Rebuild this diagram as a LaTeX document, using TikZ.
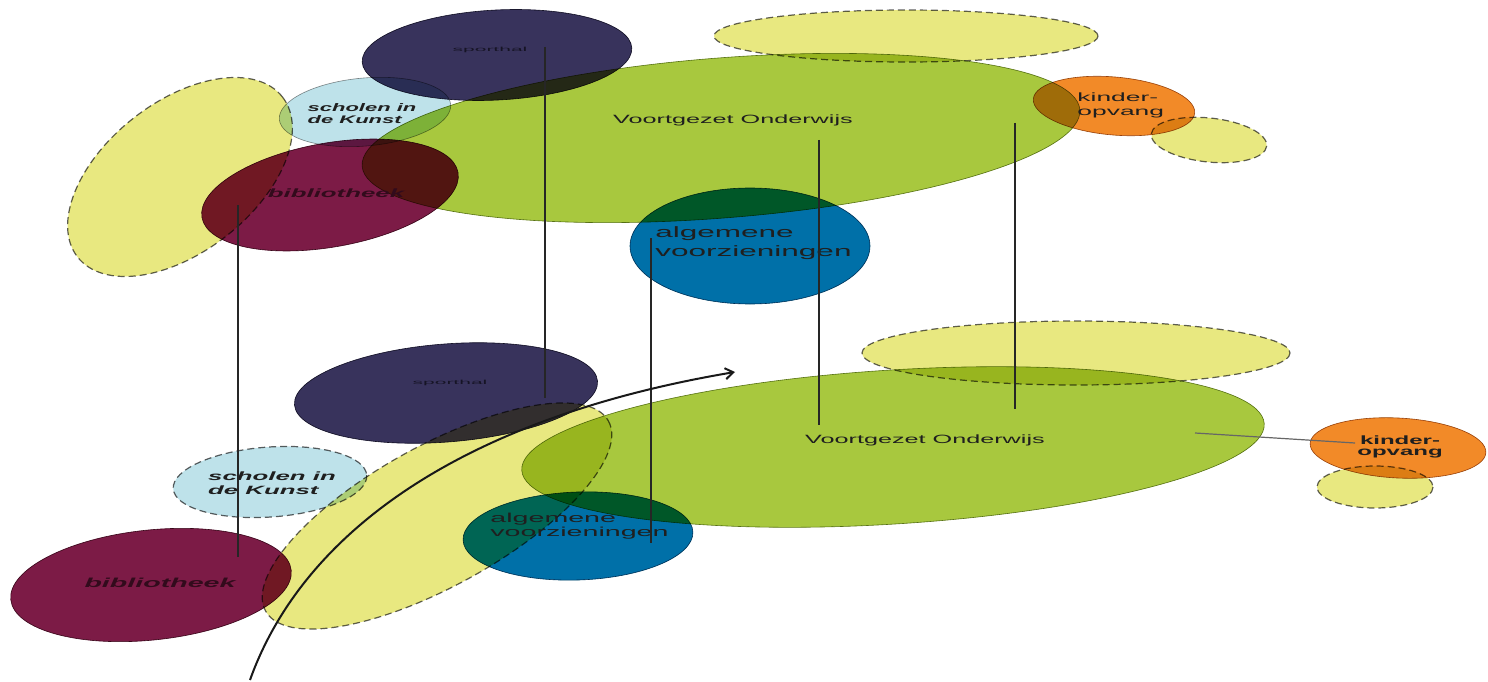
\documentclass[tikz,border=0pt]{standalone}
\usepackage{fontspec}
\setmainfont{Liberation Sans}
\usetikzlibrary{arrows.meta}
\definecolor{vogreen}{RGB}{168,200,62}
\definecolor{hallnavy}{RGB}{56,51,92}
\definecolor{libred}{RGB}{124,27,70}
\definecolor{provblue}{RGB}{0,112,168}
\definecolor{artblue}{RGB}{190,226,234}
\definecolor{hazeyel}{RGB}{232,232,128}
\definecolor{careorange}{RGB}{242,138,40}
\begin{document}
\begin{tikzpicture}[x=1pt,y=-1pt,
  blob/.style={fill=#1, draw=#1!65!black, line width=0.6pt},
  haze/.style={fill=hazeyel, draw=black!62, line width=1.2pt, dash pattern=on 7pt off 4pt},
  lbl/.style={inner sep=0pt, align=left, text=black!88, font=\fontsize{12}{13}\selectfont},
  link/.style={line width=1.7pt, black!85}]
  \useasboundingbox (0,0) rectangle (1488,682);

  \begin{scope}[blend mode=multiply]
    % upper layer
    \path[haze] (906,36) ellipse [x radius=192, y radius=26];
    \path[blob=vogreen, rotate around={4.5:(721,138)}] (721,138) ellipse [x radius=360, y radius=80];
    \path[blob=hallnavy, rotate around={3:(497,55)}] (497,55) ellipse [x radius=135, y radius=45];
    \path[blob=artblue, draw=black!45, rotate around={5:(365,112)}] (365,112) ellipse [x radius=86, y radius=34];
    \path[haze, rotate around={38:(180,177)}] (180,177) ellipse [x radius=130, y radius=75];
    \path[blob=libred, rotate around={10:(330,195)}] (330,195) ellipse [x radius=130, y radius=52];
    \path[blob=provblue] (750,246) ellipse [x radius=120, y radius=58];
    \path[blob=careorange, rotate around={-5:(1114,106)}] (1114,106) ellipse [x radius=81, y radius=29];
    \path[haze, rotate around={-6:(1209,140)}] (1209,140) ellipse [x radius=58, y radius=22];
    % lower layer
    \path[haze] (1076,353) ellipse [x radius=214, y radius=32];
    \path[blob=vogreen, rotate around={3.6:(893,447)}] (893,447) ellipse [x radius=372, y radius=77];
    \path[blob=hallnavy, rotate around={4.5:(446,393)}] (446,393) ellipse [x radius=152, y radius=49];
    \path[haze, rotate around={29:(437,516)}] (437,516) ellipse [x radius=196, y radius=70];
    \path[haze, fill=artblue, rotate around={4:(270,482)}] (270,482) ellipse [x radius=97, y radius=35];
    \path[blob=libred, rotate around={6:(151,585)}] (151,585) ellipse [x radius=141, y radius=55];
    \path[blob=provblue, rotate around={2:(578,536)}] (578,536) ellipse [x radius=115, y radius=44];
    \path[blob=careorange, rotate around={-3:(1398,448)}] (1398,448) ellipse [x radius=88, y radius=30];
    \path[haze] (1375,487) ellipse [x radius=58, y radius=21];
  \end{scope}

  % labels, upper layer
  \node[lbl, xscale=3.5, text=hallnavy!40!black, font=\fontsize{6}{7}\selectfont] (sport1) at (490,50) {sporthal};
  \node[lbl, xscale=2, font=\fontsize{11}{12}\selectfont\bfseries\itshape] (art1) at (362,114) {scholen in\\de Kunst};
  \node[lbl, xscale=2.15, text=libred!40!black, font=\fontsize{12}{13}\selectfont\bfseries\itshape] (lib1) at (336,193) {bibliotheek};
  \node[lbl, xscale=2.1] (vo1) at (733,120) {Voortgezet Onderwijs};
  \node[lbl, anchor=west, xscale=2.1, font=\fontsize{15}{19}\selectfont] (prov1) at (655,243) {algemene\\voorzieningen};
  \node[lbl, anchor=west, xscale=2.2, font=\fontsize{12}{14}\selectfont] (care1) at (1077,105) {kinder-\\opvang};
  % labels, lower layer
  \node[lbl, xscale=3.5, text=hallnavy!40!black, font=\fontsize{6}{7}\selectfont] (sport2) at (450,383) {sporthal};
  \node[lbl, xscale=2.15, font=\fontsize{12}{14}\selectfont\bfseries\itshape] (art2) at (272,483) {scholen in\\de Kunst};
  \node[lbl, xscale=2.2, text=libred!40!black, font=\fontsize{13}{14}\selectfont\bfseries\itshape] (lib2) at (160,583) {bibliotheek};
  \node[lbl, xscale=2.1] (vo2) at (925,440) {Voortgezet Onderwijs};
  \node[lbl, anchor=west, xscale=2.2, font=\fontsize{13}{14}\selectfont] (prov2) at (490,526) {algemene\\voorzieningen};
  \node[lbl, align=center, xscale=2, font=\fontsize{12}{11}\selectfont\bfseries] (care2) at (1400,447) {kinder-\\opvang};

  % line ends
  \coordinate (lib-t) at (238,205);   \coordinate (lib-b) at (238,557);
  \coordinate (sport-t) at (545,47);  \coordinate (sport-b) at (545,398);
  \coordinate (prov-t) at (651,238);  \coordinate (prov-b) at (651,543);
  \coordinate (vo-t) at (819,140);    \coordinate (vo-b) at (819,425);
  \coordinate (vox-t) at (1015,123);  \coordinate (vox-b) at (1015,409);
  \coordinate (vo-k) at (1195,433);   \coordinate (care-k) at (1355,443);
  \coordinate (from) at (250,680);    \coordinate (to) at (735,372);

  \path[link]
    (lib-t) edge (lib-b)
    (sport-t) edge (sport-b)
    (prov-t) edge (prov-b)
    (vo-t) edge (vo-b)
    (vox-t) edge (vox-b);
  \draw[line width=1.2pt, black!60] (vo-k) -- (care-k);
  \draw[line width=2pt, black!90, -{Straight Barb[length=8pt,width=11pt]}]
    (from) .. controls (300,540) and (450,420) .. (to);
\end{tikzpicture}
\end{document}
